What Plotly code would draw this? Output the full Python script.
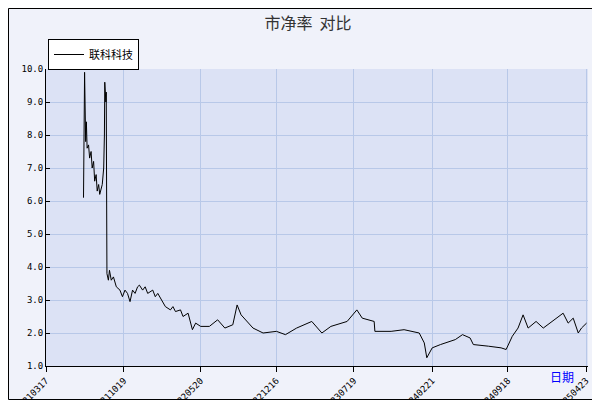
import plotly.graph_objects as go

dates = ["2021-06-29","2021-06-30","2021-07-01","2021-07-02","2021-07-05","2021-07-07","2021-07-09","2021-07-13",
 "2021-07-16","2021-07-20","2021-07-23","2021-07-27","2021-07-30","2021-08-03","2021-08-06","2021-08-10",
 "2021-08-13","2021-08-17","2021-08-20","2021-08-24","2021-08-26","2021-08-27","2021-08-30","2021-08-31",
 "2021-09-02","2021-09-06","2021-09-09","2021-09-14","2021-09-20","2021-09-28","2021-10-08","2021-10-15",
 "2021-10-22","2021-10-29","2021-11-05","2021-11-12","2021-11-19","2021-11-26","2021-12-01","2021-12-10",
 "2021-12-17","2021-12-24","2022-01-07","2022-01-14","2022-01-21","2022-02-11","2022-02-25","2022-03-04",
 "2022-03-11","2022-03-25","2022-04-01","2022-04-15","2022-04-27","2022-05-06","2022-05-20","2022-06-13",
 "2022-07-06","2022-07-26","2022-08-17","2022-08-29","2022-09-09","2022-10-12","2022-11-09","2022-12-16",
 "2023-01-10","2023-02-10","2023-03-24","2023-04-21","2023-05-16","2023-06-30","2023-07-27","2023-08-11",
 "2023-09-13","2023-09-15","2023-10-30","2023-12-05","2024-01-16","2024-01-30","2024-02-06","2024-02-21",
 "2024-03-15","2024-04-25","2024-05-15","2024-06-05","2024-06-14","2024-07-26","2024-08-30","2024-09-13",
 "2024-09-30","2024-10-16","2024-10-30","2024-11-13","2024-12-05","2024-12-25","2025-01-24","2025-02-18",
 "2025-03-04","2025-03-18","2025-04-01","2025-04-10","2025-04-24"]
pb = [6.1,7.0,8.5,9.9,7.8,8.4,7.6,7.7,
 7.3,7.5,7.0,7.2,6.6,6.8,6.3,6.5,
 6.2,6.4,6.5,7.0,8.0,9.6,9.0,9.3,
 3.8,3.6,3.9,3.6,3.7,3.4,3.3,3.1,
 3.3,3.2,2.95,3.3,3.2,3.4,3.45,3.3,
 3.4,3.2,3.3,3.1,3.2,2.8,2.7,2.8,
 2.65,2.7,2.5,2.6,2.1,2.3,2.2,2.2,
 2.4,2.15,2.25,2.85,2.55,2.15,2.0,2.05,
 1.95,2.15,2.35,2.0,2.2,2.35,2.7,2.45,
 2.35,2.05,2.05,2.1,2.0,1.7,1.25,1.55,
 1.65,1.8,1.95,1.85,1.65,1.6,1.55,1.5,
 1.9,2.15,2.55,2.15,2.35,2.15,2.4,2.6,
 2.3,2.45,2.0,2.15,2.3]
tick_vals = ["2021-03-17","2021-10-19","2022-05-20","2022-12-16","2023-07-19","2024-02-21","2024-09-18","2025-04-23"]
tick_text = ["20210317","20211019","20220520","20221216","20230719","20240221","20240918","20250423"]
y_ticks = [1,2,3,4,5,6,7,8,9,10]

L, R, T, B = 38, 580, 61, 358
W, H = 600, 400
def px(x): return (x - L) / (R - L)
def py(y): return (B - y) / (B - T)

fig = go.Figure()
fig.add_trace(go.Scatter(x=dates, y=pb, mode="lines", name="联科科技",
                         line=dict(color="black", width=1)))
fig.update_layout(
    width=W, height=H, margin=dict(l=L, r=W - R, t=T, b=H - B, autoexpand=False),
    paper_bgcolor="white", plot_bgcolor="rgba(0,0,0,0)",
    font=dict(family="DejaVu Sans Mono", size=9, color="black"),
    title=dict(text="市净率  对比", x=0.5, xanchor="center", y=1 - 15 / H, yanchor="middle",
               font=dict(family="Noto Sans CJK SC", size=16, color="#333333")),
    showlegend=True,
    legend=dict(x=px(40), y=py(31), xanchor="left", yanchor="top", bgcolor="white",
                bordercolor="black", borderwidth=1, itemwidth=30,
                font=dict(family="Noto Sans CJK SC", size=11)),
    xaxis=dict(type="date", range=["2021-03-17", "2025-04-28"], tickvals=tick_vals, ticktext=tick_text,
               tickangle=-45, showgrid=True, gridcolor="#B8C8E8", showline=True, linecolor="black",
               ticks="outside", ticklen=5, tickcolor="black", zeroline=False, automargin=False),
    yaxis=dict(range=[1, 10], tickvals=y_ticks, tickformat=".1f", showgrid=True, gridcolor="#B8C8E8",
               showline=True, linecolor="black", ticks="inside", ticklen=4, tickcolor="black",
               zeroline=False, automargin=False),
    shapes=[
        dict(type="rect", xref="paper", yref="paper", x0=px(8), x1=px(600), y0=py(400), y1=py(8),
             fillcolor="#808080", line=dict(width=0), layer="below"),
        dict(type="rect", xref="paper", yref="paper", x0=px(0.5), x1=px(591.5), y0=py(391.5), y1=py(0.5),
             fillcolor="#F0F2FA", line=dict(color="black", width=1), layer="below"),
        dict(type="rect", xref="paper", yref="paper", x0=0, x1=1, y0=0, y1=1,
             fillcolor="#DCE2F5", line=dict(width=0), layer="below"),
        dict(type="rect", xref="paper", yref="paper", x0=px(43), x1=px(120), y0=py(59), y1=py(35),
             fillcolor="#A0A0A0", line=dict(width=0), layer="below"),
    ],
    annotations=[dict(text="日期", xref="paper", yref="paper", x=px(568), y=py(379), showarrow=False,
                      font=dict(family="Noto Sans CJK SC", size=12, color="blue"))],
)
fig.write_html("out.html")
